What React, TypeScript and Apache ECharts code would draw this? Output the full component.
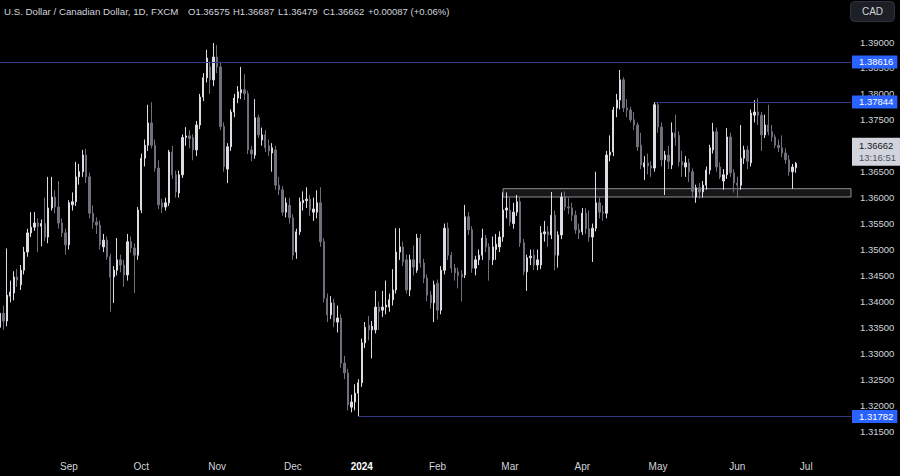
import React, { useEffect, useRef } from 'react';
import * as echarts from 'echarts';

// ---- Data ----
const openP = [
  1.3350, 1.3377, 1.3362, 1.3410, 1.3416, 1.3447, 1.3432, 1.3460, 1.3495, 1.3532,
  1.3543, 1.3551, 1.3545, 1.3550, 1.3524, 1.3580, 1.3601, 1.3582, 1.3551, 1.3532,
  1.3509, 1.3586, 1.3592, 1.3640, 1.3650, 1.3682, 1.3640, 1.3570, 1.3553, 1.3547,
  1.3505, 1.3518, 1.3486, 1.3447, 1.3460, 1.3480, 1.3470, 1.3451, 1.3515, 1.3503,
  1.3489, 1.3576, 1.3676, 1.3701, 1.3744, 1.3701, 1.3657, 1.3590, 1.3582, 1.3590,
  1.3688, 1.3644, 1.3609, 1.3644, 1.3716, 1.3719, 1.3716, 1.3692, 1.3740, 1.3794,
  1.3831, 1.3852, 1.3827, 1.3871, 1.3852, 1.3737, 1.3655, 1.3698, 1.3765, 1.3792,
  1.3802, 1.3808, 1.3800, 1.3692, 1.3682, 1.3754, 1.3711, 1.3721, 1.3700, 1.3686,
  1.3692, 1.3624, 1.3615, 1.3572, 1.3585, 1.3561, 1.3495, 1.3534, 1.3590, 1.3594,
  1.3597, 1.3572, 1.3572, 1.3590, 1.3515, 1.3406, 1.3374, 1.3397, 1.3360, 1.3368,
  1.3281, 1.3262, 1.3196, 1.3206, 1.3223, 1.3243, 1.3320, 1.3354, 1.3345, 1.3345,
  1.3389, 1.3383, 1.3389, 1.3389, 1.3403, 1.3422, 1.3495, 1.3505, 1.3480, 1.3422,
  1.3480, 1.3460, 1.3522, 1.3474, 1.3445, 1.3412, 1.3397, 1.3435, 1.3383, 1.3460,
  1.3541, 1.3489, 1.3464, 1.3457, 1.3452, 1.3451, 1.3563, 1.3538, 1.3464, 1.3480,
  1.3489, 1.3522, 1.3505, 1.3480, 1.3500, 1.3505, 1.3524, 1.3576, 1.3576, 1.3550,
  1.3572, 1.3592, 1.3513, 1.3457, 1.3484, 1.3489, 1.3470, 1.3470, 1.3530, 1.3534,
  1.3528, 1.3566, 1.3489, 1.3528, 1.3601, 1.3582, 1.3580, 1.3566, 1.3538, 1.3534,
  1.3570, 1.3540, 1.3524, 1.3541, 1.3590, 1.3572, 1.3570, 1.3682, 1.3688, 1.3773,
  1.3788, 1.3827, 1.3773, 1.3769, 1.3750, 1.3740, 1.3701, 1.3659, 1.3667, 1.3661,
  1.3657, 1.3779, 1.3736, 1.3673, 1.3682, 1.3663, 1.3725, 1.3720, 1.3669, 1.3659,
  1.3667, 1.3650, 1.3601, 1.3619, 1.3611, 1.3624, 1.3653, 1.3692, 1.3727, 1.3659,
  1.3632, 1.3644, 1.3717, 1.3648, 1.3628, 1.3624, 1.3676, 1.3692, 1.3667, 1.3759,
  1.3765, 1.3759, 1.3721, 1.3740, 1.3727, 1.3717, 1.3701, 1.3696, 1.3686, 1.3673,
  1.3650, 1.36575
];
const closeP = [
  1.3377, 1.3362, 1.3412, 1.3418, 1.3447, 1.3441, 1.3460, 1.3495, 1.3532, 1.3543,
  1.3551, 1.3545, 1.3550, 1.3524, 1.3580, 1.3601, 1.3582, 1.3551, 1.3532, 1.3509,
  1.3590, 1.3592, 1.3640, 1.3650, 1.3682, 1.3640, 1.3570, 1.3553, 1.3547, 1.3509,
  1.3518, 1.3486, 1.3447, 1.3460, 1.3480, 1.3470, 1.3451, 1.3515, 1.3503, 1.3489,
  1.3576, 1.3676, 1.3701, 1.3744, 1.3701, 1.3657, 1.3586, 1.3582, 1.3590, 1.3688,
  1.3644, 1.3611, 1.3644, 1.3716, 1.3719, 1.3714, 1.3692, 1.3740, 1.3794, 1.3831,
  1.3869, 1.3827, 1.3871, 1.3852, 1.3737, 1.3660, 1.3698, 1.3765, 1.3792, 1.3804,
  1.3808, 1.3800, 1.3692, 1.3684, 1.3754, 1.3721, 1.3721, 1.3696, 1.3690, 1.3696,
  1.3624, 1.3615, 1.3572, 1.3590, 1.3561, 1.3489, 1.3534, 1.3592, 1.3595, 1.3597,
  1.3576, 1.3578, 1.3590, 1.3515, 1.3406, 1.3374, 1.3397, 1.3360, 1.3368, 1.3281,
  1.3262, 1.3200, 1.3206, 1.3223, 1.3243, 1.3320, 1.3350, 1.3345, 1.3352, 1.3389,
  1.3380, 1.3389, 1.3393, 1.3403, 1.3422, 1.3495, 1.3505, 1.3476, 1.3422, 1.3480,
  1.3466, 1.3522, 1.3474, 1.3445, 1.3412, 1.3397, 1.3432, 1.3383, 1.3460, 1.3541,
  1.3489, 1.3464, 1.3455, 1.3450, 1.3447, 1.3563, 1.3538, 1.3464, 1.3480, 1.3489,
  1.3522, 1.3505, 1.3480, 1.3505, 1.3510, 1.3524, 1.3576, 1.3580, 1.3553, 1.3572,
  1.3592, 1.3513, 1.3457, 1.3484, 1.3487, 1.3470, 1.3480, 1.3532, 1.3534, 1.3528,
  1.3566, 1.3489, 1.3528, 1.3601, 1.3582, 1.3580, 1.3566, 1.3538, 1.3532, 1.3570,
  1.3540, 1.3524, 1.3541, 1.3590, 1.3572, 1.3570, 1.3682, 1.3688, 1.3769, 1.3788,
  1.3827, 1.3773, 1.3769, 1.3750, 1.3740, 1.3698, 1.3663, 1.3667, 1.3661, 1.3657,
  1.3779, 1.3736, 1.3673, 1.3682, 1.3670, 1.3725, 1.3716, 1.3669, 1.3663, 1.3667,
  1.3650, 1.3612, 1.3619, 1.3611, 1.3624, 1.3653, 1.3696, 1.3727, 1.3659, 1.3640,
  1.3644, 1.3717, 1.3648, 1.3628, 1.3624, 1.3676, 1.3692, 1.3670, 1.3763, 1.3765,
  1.3759, 1.3721, 1.3740, 1.3727, 1.3717, 1.3701, 1.3696, 1.3686, 1.3673, 1.3650,
  1.3659, 1.36662
];
const lowP = [
  1.3320, 1.3345, 1.3352, 1.3398, 1.3402, 1.3428, 1.3422, 1.3452, 1.3486, 1.3524,
  1.3536, 1.3495, 1.3506, 1.3516, 1.3512, 1.3575, 1.3570, 1.3540, 1.3524, 1.3490,
  1.3500, 1.3575, 1.3584, 1.3625, 1.3640, 1.3628, 1.3560, 1.3540, 1.3530, 1.3500,
  1.3495, 1.3480, 1.3380, 1.3397, 1.3450, 1.3456, 1.3428, 1.3440, 1.3494, 1.3416,
  1.3480, 1.3570, 1.3660, 1.3690, 1.3695, 1.3650, 1.3578, 1.3570, 1.3575, 1.3584,
  1.3636, 1.3600, 1.3600, 1.3638, 1.3700, 1.3695, 1.3672, 1.3680, 1.3732, 1.3786,
  1.3822, 1.3800, 1.3815, 1.3840, 1.3730, 1.3650, 1.3628, 1.3690, 1.3755, 1.3782,
  1.3790, 1.3788, 1.3684, 1.3670, 1.3675, 1.3715, 1.3700, 1.3688, 1.3680, 1.3650,
  1.3615, 1.3605, 1.3565, 1.3562, 1.3550, 1.3480, 1.3482, 1.3528, 1.3575, 1.3580,
  1.3565, 1.3555, 1.3560, 1.3505, 1.3398, 1.3360, 1.3366, 1.3350, 1.3340, 1.3272,
  1.3250, 1.3190, 1.3186, 1.3190, 1.3178, 1.3235, 1.3310, 1.3325, 1.3290, 1.3338,
  1.3345, 1.3370, 1.3375, 1.3380, 1.3392, 1.3415, 1.3480, 1.3468, 1.3415, 1.3410,
  1.3450, 1.3455, 1.3465, 1.3435, 1.3400, 1.3386, 1.3360, 1.3365, 1.3375, 1.3452,
  1.3480, 1.3455, 1.3440, 1.3425, 1.3400, 1.3445, 1.3528, 1.3455, 1.3450, 1.3470,
  1.3480, 1.3495, 1.3440, 1.3470, 1.3480, 1.3495, 1.3515, 1.3560, 1.3545, 1.3540,
  1.3565, 1.3505, 1.3450, 1.3420, 1.3470, 1.3460, 1.3460, 1.3462, 1.3515, 1.3505,
  1.3520, 1.3460, 1.3465, 1.3520, 1.3575, 1.3568, 1.3555, 1.3530, 1.3520, 1.3528,
  1.3530, 1.3515, 1.3476, 1.3535, 1.3560, 1.3555, 1.3560, 1.3670, 1.3680, 1.3755,
  1.3770, 1.3765, 1.3755, 1.3745, 1.3730, 1.3690, 1.3655, 1.3634, 1.3645, 1.3640,
  1.3650, 1.3725, 1.3660, 1.3605, 1.3655, 1.3655, 1.3700, 1.3660, 1.3640, 1.3640,
  1.3630, 1.3600, 1.3590, 1.3598, 1.3600, 1.3615, 1.3645, 1.3685, 1.3650, 1.3636,
  1.3615, 1.3636, 1.3640, 1.3610, 1.3600, 1.3615, 1.3665, 1.3655, 1.3660, 1.3745,
  1.3740, 1.3690, 1.3715, 1.3720, 1.3708, 1.3695, 1.3688, 1.3678, 1.3665, 1.3642,
  1.3617, 1.36479
];
const highP = [
  1.3385, 1.3392, 1.3502, 1.3440, 1.3458, 1.3462, 1.3470, 1.3505, 1.3540, 1.3572,
  1.3572, 1.3560, 1.3558, 1.3600, 1.3640, 1.3640, 1.3614, 1.3632, 1.3560, 1.3540,
  1.3595, 1.3610, 1.3669, 1.3665, 1.3692, 1.3694, 1.3648, 1.3585, 1.3562, 1.3556,
  1.3530, 1.3525, 1.3492, 1.3468, 1.3522, 1.3490, 1.3480, 1.3530, 1.3525, 1.3512,
  1.3582, 1.3685, 1.3712, 1.3779, 1.3784, 1.3712, 1.3672, 1.3598, 1.3600, 1.3692,
  1.3700, 1.3652, 1.3652, 1.3722, 1.3736, 1.3730, 1.3722, 1.3748, 1.3800, 1.3840,
  1.3885, 1.3862, 1.3898, 1.3894, 1.3862, 1.3745, 1.3705, 1.3770, 1.3800, 1.3815,
  1.3852, 1.3838, 1.3806, 1.3700, 1.3790, 1.3760, 1.3735, 1.3730, 1.3712, 1.3705,
  1.3700, 1.3640, 1.3622, 1.3600, 1.3600, 1.3568, 1.3540, 1.3600, 1.3612, 1.3620,
  1.3605, 1.3600, 1.3614, 1.3620, 1.3522, 1.3415, 1.3410, 1.3405, 1.3392, 1.3375,
  1.3295, 1.3270, 1.3220, 1.3240, 1.3250, 1.3328, 1.3360, 1.3372, 1.3362, 1.3420,
  1.3400, 1.3420, 1.3440, 1.3415, 1.3462, 1.3541, 1.3541, 1.3515, 1.3490, 1.3490,
  1.3508, 1.3530, 1.3530, 1.3482, 1.3452, 1.3420, 1.3440, 1.3442, 1.3468, 1.3550,
  1.3552, 1.3495, 1.3472, 1.3465, 1.3460, 1.3586, 1.3572, 1.3545, 1.3488, 1.3500,
  1.3540, 1.3528, 1.3512, 1.3525, 1.3530, 1.3535, 1.3610, 1.3610, 1.3600, 1.3590,
  1.3605, 1.3600, 1.3520, 1.3490, 1.3500, 1.3500, 1.3500, 1.3545, 1.3555, 1.3545,
  1.3611, 1.3575, 1.3535, 1.3610, 1.3612, 1.3600, 1.3590, 1.3575, 1.3550, 1.3580,
  1.3580, 1.3575, 1.3550, 1.3650, 1.3600, 1.3585, 1.3690, 1.3720, 1.3775, 1.3800,
  1.3846, 1.3832, 1.3790, 1.3775, 1.3765, 1.3745, 1.3725, 1.3680, 1.3685, 1.3670,
  1.37844, 1.3784, 1.3745, 1.3690, 1.3700, 1.3745, 1.3760, 1.3728, 1.3690, 1.3680,
  1.3675, 1.3656, 1.3625, 1.3628, 1.3632, 1.3660, 1.3702, 1.3744, 1.3735, 1.3668,
  1.3655, 1.3734, 1.3725, 1.3655, 1.3640, 1.3740, 1.3700, 1.3700, 1.3770, 1.3788,
  1.3791, 1.3765, 1.3760, 1.3779, 1.3740, 1.3722, 1.3712, 1.3720, 1.3695, 1.3682,
  1.3665, 1.36687
];

// Horizontal levels and zone
const levelTop = 1.38616;
const levelMid = 1.37844;
const levelLow = 1.31782;
const levelMidStart = 190;
const levelLowStart = 104;
const zoneTop = 1.36172;
const zoneBottom = 1.36012;
const zoneStart = 146;
const lastPrice = 1.36662;
const countdown = '13:16:51';

// Category axis (trading days) - first candle and the skipped holidays
const firstDay = '2023-08-04';
const skippedDays = ['2023-12-25', '2024-01-01'];
const slotCount = 248;
const monthNames = ['Jan', 'Feb', 'Mar', 'Apr', 'May', 'Jun', 'Jul', 'Aug', 'Sep', 'Oct', 'Nov', 'Dec'];

// Header pieces
const headerTitle = 'U.S. Dollar / Canadian Dollar, 1D, FXCM';
const headerParts = ['O1.36575', 'H1.36687', 'L1.36479', 'C1.36662', '+0.00087 (+0.06%)'];

function buildDays(start: string, count: number, skip: string[]): string[] {
  const out: string[] = [];
  const d = new Date(start + 'T00:00:00Z');
  while (out.length < count) {
    const dow = d.getUTCDay();
    const s = d.toISOString().slice(0, 10);
    if (dow !== 0 && dow !== 6 && skip.indexOf(s) < 0) out.push(s);
    d.setUTCDate(d.getUTCDate() + 1);
  }
  return out;
}

const FONT = '"Liberation Sans", Arial, sans-serif';
const UP = '#dcdde3';
const DOWN = '#6e717b';
const TEXT = '#d1d4dc';
const LEVEL_LINE = '#353a88';
const TAG_BG = '#2962ff';

function tag(text: string) {
  return {
    show: true,
    position: 'end',
    distance: 1,
    formatter: text,
    backgroundColor: TAG_BG,
    color: '#ffffff',
    fontFamily: FONT,
    fontSize: 9.5,
    padding: [2, 4, 1, 7],
  };
}

export default function App() {
  const ref = useRef<HTMLDivElement>(null);

  useEffect(() => {
    if (!ref.current) return;
    const chart = echarts.init(ref.current, undefined, { renderer: 'svg' });
    const days = buildDays(firstDay, slotCount, skippedDays);
    const lastSlot = days[days.length - 1];
    const candles = openP.map((o, i) => [o, closeP[i], lowP[i], highP[i]]);
    const partX = [188, 233, 278, 323, 368];

    const option: any = {
      animation: false,
      backgroundColor: '#000000',
      grid: { left: 0, right: 49, top: 16.07, bottom: 19.04 },
      xAxis: {
        type: 'category',
        data: days,
        boundaryGap: false,
        axisLine: { show: false },
        axisTick: { show: false },
        splitLine: { show: false },
        axisLabel: {
          color: TEXT,
          fontFamily: FONT,
          fontSize: 10,
          margin: 5,
          hideOverlap: false,
          interval: (index: number, value: string) =>
            index > 0 && value.slice(5, 7) !== days[index - 1].slice(5, 7),
          formatter: (value: string) => {
            const m = parseInt(value.slice(5, 7), 10) - 1;
            if (m === 0) return '{y|' + value.slice(0, 4) + '}';
            return monthNames[m];
          },
          rich: { y: { fontWeight: 'bold', color: '#ffffff', fontFamily: FONT, fontSize: 10 } },
        },
      },
      yAxis: {
        type: 'value',
        position: 'right',
        min: 1.31,
        max: 1.395,
        interval: 0.005,
        axisLine: { show: false },
        axisTick: { show: false },
        splitLine: { show: false },
        axisLabel: {
          color: TEXT,
          fontFamily: FONT,
          fontSize: 9.5,
          margin: 9,
          formatter: (v: number) => (v < 1.3125 || v > 1.3925 ? '' : v.toFixed(5)),
        },
      },
      series: [
        {
          type: 'candlestick',
          data: candles,
          barWidth: 1.8,
          itemStyle: { color: UP, color0: DOWN, borderColor: UP, borderColor0: DOWN, borderWidth: 1 },
          markArea: {
            silent: true,
            itemStyle: { color: 'rgba(255,255,255,0.09)', borderColor: '#8d9099', borderWidth: 1 },
            data: [[{ coord: [days[zoneStart], zoneTop] }, { coord: [lastSlot, zoneBottom] }]],
          },
          markLine: {
            silent: true,
            symbol: ['none', 'none'],
            lineStyle: { color: LEVEL_LINE, width: 1, type: 'solid' },
            data: [
              [{ coord: [days[0], levelTop], label: tag(levelTop.toFixed(5)) }, { coord: [lastSlot, levelTop] }],
              [{ coord: [days[levelMidStart], levelMid], label: tag(levelMid.toFixed(5)) }, { coord: [lastSlot, levelMid] }],
              [{ coord: [days[levelLowStart], levelLow], label: tag(levelLow.toFixed(5)) }, { coord: [lastSlot, levelLow] }],
              {
                yAxis: lastPrice,
                lineStyle: { color: 'rgba(0,0,0,0)', width: 1 },
                label: {
                  show: true,
                  position: 'end',
                  distance: 1,
                  offset: [0, 6],
                  backgroundColor: '#d1d4dc',
                  padding: [2, 4, 2, 7],
                  formatter: '{a|' + lastPrice.toFixed(5) + '}\n{b|' + countdown + '}',
                  rich: {
                    a: { color: '#131722', fontFamily: FONT, fontSize: 9.5, lineHeight: 12 },
                    b: { color: '#50535e', fontFamily: FONT, fontSize: 9.5, lineHeight: 12 },
                  },
                },
              },
            ],
          },
        },
      ],
      graphic: [
        {
          type: 'text',
          x: 4,
          y: 11,
          style: { text: headerTitle, fill: TEXT, fontFamily: FONT, fontSize: 9.7, verticalAlign: 'middle', textVerticalAlign: 'middle' },
        },
        ...headerParts.map((t, k) => ({
          type: 'text',
          x: partX[k],
          y: 11,
          style: { text: t, fill: TEXT, fontFamily: FONT, fontSize: 9.5, verticalAlign: 'middle', textVerticalAlign: 'middle' },
        })),
        {
          type: 'rect',
          shape: { x: 850.5, y: 1.5, width: 44, height: 20, r: 4 },
          style: { fill: '#1c1f26', stroke: '#2e3240', lineWidth: 1 },
        },
        {
          type: 'text',
          x: 872.5,
          y: 11.5,
          style: { text: 'CAD', fill: TEXT, fontFamily: FONT, fontSize: 10, align: 'center', textAlign: 'center', verticalAlign: 'middle', textVerticalAlign: 'middle' },
        },
      ],
    };

    chart.setOption(option);
    return () => chart.dispose();
  }, []);

  return (
    <div
      ref={ref}
      style={{ position: 'fixed', left: 0, top: 0, width: 900, height: 476, background: '#000' }}
    />
  );
}
